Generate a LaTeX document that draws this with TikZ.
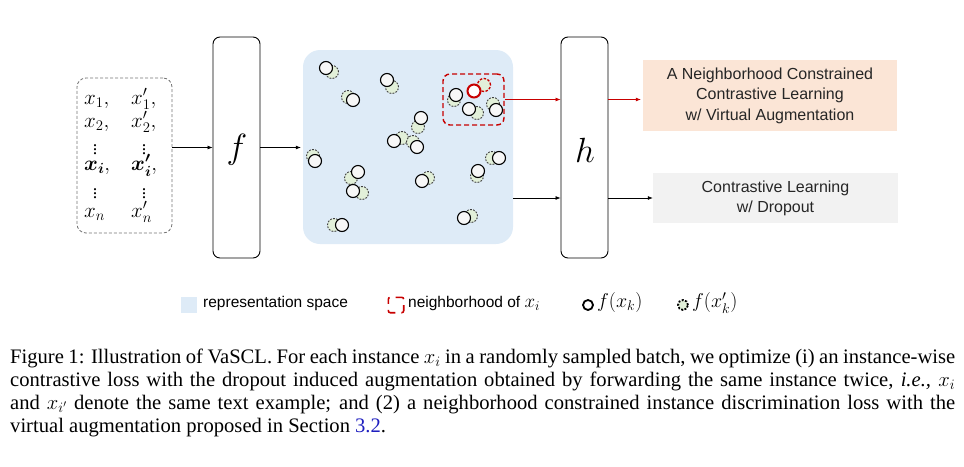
\RequirePackage{fix-cm}
\documentclass[tikz,border=0pt]{standalone}
\usepackage{amsmath}
\usepackage{bm}
\usepackage{fontspec}
\setmainfont{Liberation Serif}
\newfontfamily\arialf{Liberation Sans}
\usetikzlibrary{arrows.meta}
\definecolor{spaceblue}{HTML}{DEEBF7}
\definecolor{orangefill}{HTML}{FBE5D6}
\definecolor{grayfill}{HTML}{F2F2F2}
\definecolor{greenfill}{HTML}{E2F0D9}
\definecolor{redc}{HTML}{C80000}
\definecolor{linkblue}{HTML}{1F1FBF}
\definecolor{txtdark}{HTML}{262626}
\tikzset{
  netbox/.style={draw=black, line width=0.9pt, rounded corners=7pt, minimum width=47pt, minimum height=221pt, inner sep=0pt, fill=white},
  inbox/.style={draw=black!55, dashed, dash pattern=on 3pt off 2pt, line width=0.8pt, rounded corners=9pt, minimum width=95pt, minimum height=155pt, inner sep=0pt},
  wc/.style={circle, draw=black, line width=1.1pt, fill=grayfill!60!white, minimum size=13pt, inner sep=0pt},
  gc/.style={circle, draw=black!75, line width=0.9pt, dash pattern=on 1.8pt off 1.3pt, fill=greenfill, minimum size=13pt, inner sep=0pt},
  arr/.style={-{Latex[length=5pt,width=4pt]}, line width=0.7pt, black},
  rarr/.style={-{Latex[length=5pt,width=4pt]}, line width=0.7pt, redc},
  mtxt/.style={inner sep=0pt, font=\fontsize{21}{23}\selectfont},
  vdt/.style={inner sep=0pt, font=\fontsize{18}{19}\selectfont},
  lgtxt/.style={inner sep=0pt, anchor=mid west, font=\arialf\fontsize{15.5}{18}\selectfont},
  lgmath/.style={inner sep=0pt, anchor=mid west, font=\fontsize{20}{22}\selectfont},
  capline/.style={inner sep=0pt, anchor=base west, font=\fontsize{20.6}{23}\selectfont},
}
\begin{document}
\begin{tikzpicture}[x=1pt,y=-1pt]
\useasboundingbox (0,0) rectangle (964,466);

% input box
\node[inbox] (inp) at (124.5,155.5) {};
\node[mtxt, anchor=mid west] (a1) at (84,102) {$x_1,$};
\node[mtxt, anchor=mid west] (b1) at (131,102) {$x'_1,$};
\node[mtxt, anchor=mid west] (a2) at (84,125) {$x_2,$};
\node[mtxt, anchor=mid west] (b2) at (131,125) {$x'_2,$};
\node[vdt] (a3) at (95,147) {$\vdots$};
\node[vdt] (b3) at (144,147) {$\vdots$};
\node[mtxt, anchor=mid west] (a4) at (84,168) {$\bm{x_i},$};
\node[mtxt, anchor=mid west] (b4) at (131,168) {$\bm{x'_i},$};
\node[vdt] (a5) at (95,191) {$\vdots$};
\node[vdt] (b5) at (144,191) {$\vdots$};
\node[mtxt, anchor=mid west] (a6) at (84,215) {$x_n$};
\node[mtxt, anchor=mid west] (b6) at (131,215) {$x'_n$};

% encoder f
\node[netbox] (f) at (236.5,147.5) {};
\node[inner sep=0pt, font=\fontsize{35}{35}\selectfont] (fl) at (237,150) {$f$};

% representation space
\node[fill=spaceblue, rounded corners=17pt, minimum width=210pt, minimum height=194pt, inner sep=0pt] (space) at (408,147) {};

% neighborhood box
\node[draw=redc, dashed, dash pattern=on 5pt off 3pt, line width=1.4pt, rounded corners=7pt, minimum width=61pt, minimum height=51pt, inner sep=0pt] (nb) at (473.5,99.5) {};

% circle pairs: white x/y, green x/y
\foreach \wx/\wy/\gx/\gy [count=\k] in {
  326/68/332/72, 387/80/392/87, 353/100/348/97, 421/118/418/127,
  394/141/402/138, 417/147/413/142, 315/161/313/156, 358/172/351/178,
  353/191/362/193, 422/181/428/178, 499/158/492/158, 478/171/477/176,
  464/218/471/216, 342/225/334/225, 456/95/454/100, 469/109/477/113,
  496/110/493/104}{
  \node[gc] (g\k) at (\gx,\gy) {};
  \node[wc] (w\k) at (\wx,\wy) {};
}
\node[gc, draw=redc, line width=1.3pt, dash pattern=on 2.5pt off 1.5pt] (gr) at (484,85) {};
\node[wc, draw=redc, line width=2pt, fill=white] (wr) at (474,91) {};

% projection head h
\node[netbox] (h) at (584.5,147.5) {};
\node[inner sep=0pt, font=\fontsize{35}{35}\selectfont] (hl) at (585,150) {$h$};

% output boxes
\node[fill=orangefill, minimum width=254pt, minimum height=71pt, inner sep=0pt, align=center, text=txtdark, font=\arialf\fontsize{16}{20.5}\selectfont] (ob) at (770,95.5) {A Neighborhood Constrained\\Contrastive Learning\\w/ Virtual Augmentation};
\node[fill=grayfill, minimum width=245pt, minimum height=50pt, inner sep=0pt, align=center, text=txtdark, font=\arialf\fontsize{16}{20}\selectfont] (gb) at (775.5,198) {Contrastive Learning\\w/ Dropout};

% connectors
\draw[arr] (inp.east |- f.west) -- (f.west);
\draw[arr, shorten >=2pt] (f.east) -- (f.east -| space.west);
\draw[rarr] (nb.east) -- (nb.east -| h.west);
\draw[rarr, shorten >=2pt] (nb.east -| h.east) -- (nb.east -| ob.west);
\draw[arr] (space.east |- gb.west) -- (h.west |- gb.west);
\draw[arr] (h.east |- gb.west) -- (gb.west);

% legend
\node[fill=spaceblue, minimum size=16pt, inner sep=0pt] (lg1) at (188.5,305) {};
\node[lgtxt] (lt1) at (203,305) {representation space};
\node[minimum size=15pt, inner sep=0pt] (lg2) at (396,305) {};
\draw[redc, line width=1.6pt, rounded corners=2pt, dash pattern=on 4.5pt off 6pt on 4.5pt off 0pt] (lg2.north west) rectangle (lg2.south east);
\node[lgtxt] (lt2) at (408,305) {neighborhood of {\fontsize{19}{20}\selectfont$x_i$}};
\node[circle, draw=black, line width=1.8pt, fill=white, minimum size=10pt, inner sep=0pt] (lg3) at (588,305) {};
\node[lgmath] (lt3) at (597,305) {$f(x_k)$};
\node[circle, draw=black, line width=1.8pt, dash pattern=on 2pt off 1.5pt, fill=greenfill, minimum size=10pt, inner sep=0pt] (lg4) at (683,305) {};
\node[lgmath] (lt4) at (692,305) {$f(x'_k)$};

% caption
\node[capline] (cap1) at (10,363) {\makebox[945pt][s]{Figure 1: Illustration of VaSCL. For each instance $x_i$ in a randomly sampled batch, we optimize (i) an instance-wise}};
\node[capline] (cap2) at (10,386) {\makebox[945pt][s]{contrastive loss with the dropout induced augmentation obtained by forwarding the same instance twice, \emph{i.e.,} $x_i$}};
\node[capline] (cap3) at (10,409) {\makebox[945pt][s]{and $x_{i'}$ denote the same text example; and (2) a neighborhood constrained instance discrimination loss with the}};
\node[capline] (cap4) at (10,432) {virtual augmentation proposed in Section \textcolor{linkblue}{3.2}.};
\end{tikzpicture}
\end{document}
